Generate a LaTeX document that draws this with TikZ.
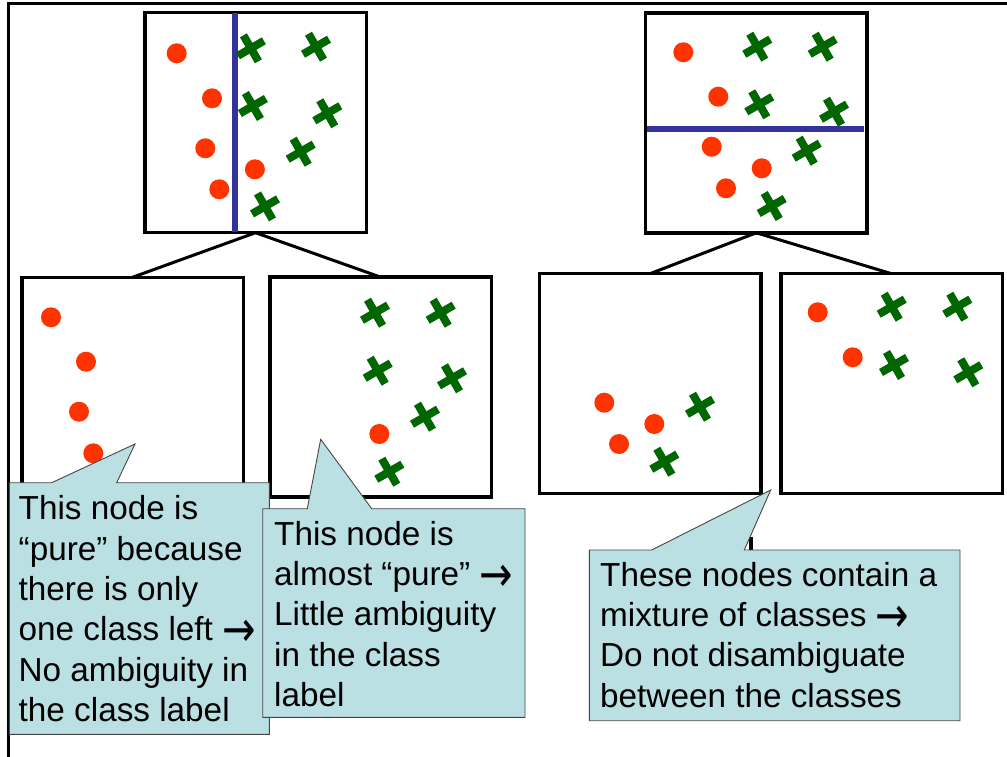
\documentclass[tikz,border=0pt]{standalone}
\usepackage{fontspec}
\usepackage{graphicx}
\setmainfont{Liberation Sans}
\newfontfamily\arrowfont{DejaVu Sans}
\newcommand{\toarrow}{\raisebox{-6pt}{\scalebox{1.2}[1.5]{\arrowfont →}}}
\usetikzlibrary{calc}
\definecolor{dotred}{RGB}{255,51,0}
\definecolor{xgreen}{RGB}{0,102,0}
\definecolor{splitblue}{RGB}{51,51,153}
\definecolor{notefill}{RGB}{187,224,227}
\definecolor{noteline}{RGB}{70,70,70}
\begin{document}
\begin{tikzpicture}[x=1pt,y=-1pt,
  treebox/.style={draw=black, line width=3.5pt, fill=white,
    minimum width=221.5pt, minimum height=220pt, inner sep=0pt, outer sep=0pt},
  link/.style={draw=black, line width=3pt},
  split/.style={draw=splitblue, line width=6pt},
  frame/.style={draw=black, line width=3pt},
  note/.style={fill=notefill, draw=noteline, line width=0.9pt, line join=miter},
  notetext/.style={anchor=base west, align=left, inner sep=0pt,
    font=\fontsize{33.3}{40.4}\selectfont},
  dot/.pic={\fill[dotred] (0,0) circle (10);},
  xmark/.pic={\draw[xgreen, line width=8pt]
    (-30:15) -- (150:15) (60:15) -- (240:15);}
]
\useasboundingbox (0,0) rectangle (1007,757);

% outer frame (top and left edges)
\draw[frame] (8,757) -- (8,3.3) -- (1007,3.3);

% tree boxes
\node[treebox] (T1) at (255.5,122.7) {};
\node[treebox] (T2) at (756.3,122.8) {};
\node[treebox] (C)  at (132.5,387.3) {};
\node[treebox] (D)  at (380.8,387.2) {};
\node[treebox] (A)  at (650,383.7) {};
\node[treebox] (B)  at (891.5,383.7) {};

% branches
\draw[link] (T1.south) -- (C.north);
\draw[link] (T1.south) -- (D.north);
\draw[link] (T2.south) -- (A.north);
\draw[link] (T2.south) -- (B.north);

% split lines
\draw[split] (234.7,13.5) -- (234.7,231.5);
\draw[split] (646.5,129.3) -- (863.5,129.3);

% root, vertical split
\foreach \p in {(176.7,53.3),(212,98.3),(205.3,148.3),(254.9,169.3),(219.3,189.3)}
  \pic at \p {dot};
\foreach \p in {(250.9,48.3),(316,46.7),(252.9,106),(327.3,113.3),(300.7,151.7),(265,206.4)}
  \pic at \p {xmark};

% root, horizontal split
\foreach \p in {(683.3,52.3),(718.3,96.7),(711.7,146.7),(761.7,168.3),(726,188.3)}
  \pic at \p {dot};
\foreach \p in {(757.3,46.7),(822.7,46.7),(759.3,104.3),(834,111.7),(806.7,150.7),(771.7,206)}
  \pic at \p {xmark};

% left child of the vertical split
\foreach \p in {(51,317.3),(86,361.7),(79,411.7),(93.3,453.3)}
  \pic at \p {dot};

% right child of the vertical split
\pic at (379.3,434) {dot};
\foreach \p in {(375,312.7),(440.7,312.7),(377.7,370.7),(452,378.3),(425,416.7),(389.3,471.7)}
  \pic at \p {xmark};

% children of the horizontal split
\foreach \p in {(604.3,402.7),(619,444),(654.3,424)}
  \pic at \p {dot};
\foreach \p in {(700,406.7),(664.3,461.7)}
  \pic at \p {xmark};
\foreach \p in {(817.7,312.3),(852.7,357.3)}
  \pic at \p {dot};
\foreach \p in {(891.7,306.7),(957.3,306.7),(894,365),(968.3,372.3)}
  \pic at \p {xmark};

% small dark mark peeking out above the third note
\fill[black] (749,537) rectangle (753,550);

% callout notes (base anchor sits on the last line)
\draw[note] (9.3,482.7) -- (51.7,482.7) -- (135,444) -- (116.7,482.7)
  -- (269.3,482.7) -- (269.3,734.3) -- (9.3,734.3) -- cycle;
\node[notetext] (n1) at (18.5,721.7)
  {This node is\\“pure” because\\there is only\\one class left \toarrow\\No ambiguity in\\the class label};

\draw[note] (262.7,508.7) -- (307.3,508.7) -- (320.7,439.3) -- (371.7,508.7)
  -- (525,508.7) -- (525,717.3) -- (262.7,717.3) -- cycle;
\node[notetext] (n2) at (274,706.7)
  {This node is\\almost “pure” \toarrow\\Little ambiguity\\in the class\\label};

\draw[note] (589.3,550) -- (651.7,550) -- (770.7,490) -- (744.3,550)
  -- (960,550) -- (960,720.7) -- (589.3,720.7) -- cycle;
\node[notetext] (n3) at (600,707.3)
  {These nodes contain a\\mixture of classes \toarrow\\Do not disambiguate\\between the classes};
\end{tikzpicture}
\end{document}
